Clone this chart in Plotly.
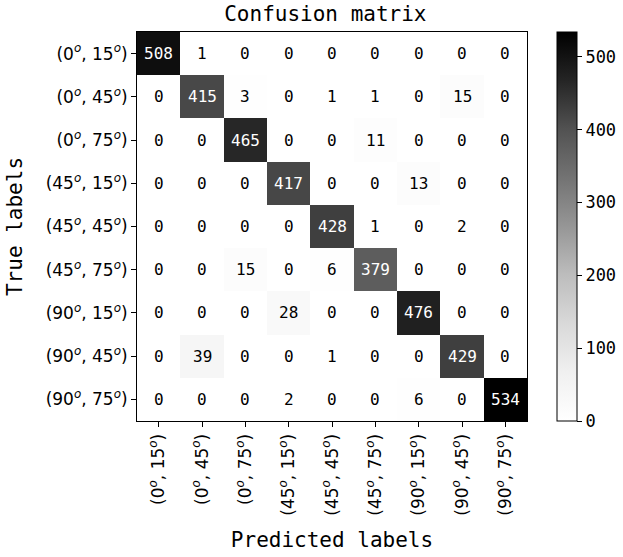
import plotly.graph_objects as go

labels = ["(0<sup><i>o</i></sup>, 15<sup><i>o</i></sup>)", "(0<sup><i>o</i></sup>, 45<sup><i>o</i></sup>)",
          "(0<sup><i>o</i></sup>, 75<sup><i>o</i></sup>)", "(45<sup><i>o</i></sup>, 15<sup><i>o</i></sup>)",
          "(45<sup><i>o</i></sup>, 45<sup><i>o</i></sup>)", "(45<sup><i>o</i></sup>, 75<sup><i>o</i></sup>)",
          "(90<sup><i>o</i></sup>, 15<sup><i>o</i></sup>)", "(90<sup><i>o</i></sup>, 45<sup><i>o</i></sup>)",
          "(90<sup><i>o</i></sup>, 75<sup><i>o</i></sup>)"]

matrix = [
    [508, 1, 0, 0, 0, 0, 0, 0, 0],
    [0, 415, 3, 0, 1, 1, 0, 15, 0],
    [0, 0, 465, 0, 0, 11, 0, 0, 0],
    [0, 0, 0, 417, 0, 0, 13, 0, 0],
    [0, 0, 0, 0, 428, 1, 0, 2, 0],
    [0, 0, 15, 0, 6, 379, 0, 0, 0],
    [0, 0, 0, 28, 0, 0, 476, 0, 0],
    [0, 39, 0, 0, 1, 0, 0, 429, 0],
    [0, 0, 0, 2, 0, 0, 6, 0, 534],
]

greys = [[0.0, "rgb(255,255,255)"], [0.125, "rgb(240,240,240)"], [0.25, "rgb(217,217,217)"],
         [0.375, "rgb(189,189,189)"], [0.5, "rgb(150,150,150)"], [0.625, "rgb(115,115,115)"],
         [0.75, "rgb(82,82,82)"], [0.875, "rgb(37,37,37)"], [1.0, "rgb(0,0,0)"]]

n = len(labels)
idx = list(range(n))
zmax = max(max(r) for r in matrix)
thresh = zmax / 2.0

MONO = "DejaVu Sans Mono"
SANS = "DejaVu Sans"

W, H = 623, 557
fig = go.Figure(go.Heatmap(
    z=matrix, x=idx, y=idx, zmin=0, zmax=zmax, colorscale=greys,
    colorbar=dict(
        x=(557 - 137) / 390, xanchor="left", xpad=0, ypad=0,
        y=0.5, yanchor="middle", len=1, lenmode="fraction",
        thickness=20, thicknessmode="pixels",
        outlinecolor="black", outlinewidth=1,
        ticks="outside", ticklen=5, tickcolor="black", tickwidth=1,
        tick0=0, dtick=100,
        tickfont=dict(family=MONO, size=17, color="black"),
    ),
    hoverinfo="skip",
))

for i, row in enumerate(matrix):
    for j, v in enumerate(row):
        fig.add_annotation(x=j, y=i, text=str(v), showarrow=False,
                           font=dict(family=MONO, size=16,
                                     color="white" if v > thresh else "black"))

fig.update_layout(
    width=W, height=H,
    margin=dict(l=137, r=96, t=32, b=136, autoexpand=False),
    paper_bgcolor="white", plot_bgcolor="white",
    title=dict(text="Confusion matrix", x=0.483, xref="paper", xanchor="center",
               y=1 - 14 / H, yref="container", yanchor="middle",
               font=dict(family=MONO, size=21, color="black")),
)
fig.update_xaxes(
    range=[-0.5, n - 0.5], tickvals=idx, ticktext=labels, tickangle=-90,
    ticks="outside", ticklen=5, tickcolor="black", automargin=False,
    tickfont=dict(family=SANS, size=17, color="black"),
    showline=True, linecolor="black", linewidth=1, mirror=True,
    showgrid=False, zeroline=False,
    title=dict(text="Predicted labels", font=dict(family=MONO, size=21, color="black"), standoff=17),
)
fig.update_yaxes(
    range=[n - 0.5, -0.5], tickvals=idx, ticktext=labels,
    ticks="outside", ticklen=5, tickcolor="black", automargin=False,
    tickfont=dict(family=SANS, size=17, color="black"),
    showline=True, linecolor="black", linewidth=1, mirror=True,
    showgrid=False, zeroline=False,
    title=dict(text="True labels", font=dict(family=MONO, size=21, color="black"), standoff=17),
)

fig.write_html("out.html", config={"displayModeBar": False},
               post_script="document.body.style.margin='0';")
